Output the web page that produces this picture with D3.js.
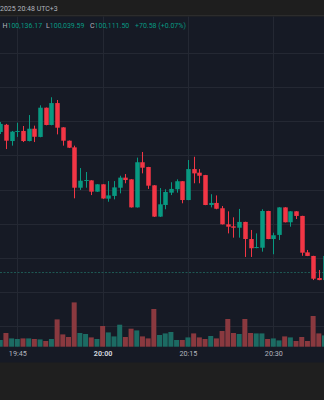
<!DOCTYPE html>
<html>
<head>
<meta charset="utf-8">
<script src="https://cdn.jsdelivr.net/npm/d3@7/dist/d3.min.js"></script>
<style>
  html, body { margin: 0; padding: 0; background: #1f1f1f; }
  svg { display: block; font-family: Roboto, "Noto Sans", sans-serif; }
</style>
</head>
<body>
<svg id="chart" width="324" height="400"></svg>
<script>
// ---- data (1-minute BTC candles, 19:42 – 20:39) ----
const times = ["19:42","19:43","19:44","19:45","19:46","19:47","19:48","19:49","19:50","19:51",
  "19:52","19:53","19:54","19:55","19:56","19:57","19:58","19:59","20:00","20:01",
  "20:02","20:03","20:04","20:05","20:06","20:07","20:08","20:09","20:10","20:11",
  "20:12","20:13","20:14","20:15","20:16","20:17","20:18","20:19","20:20","20:21",
  "20:22","20:23","20:24","20:25","20:26","20:27","20:28","20:29","20:30","20:31",
  "20:32","20:33","20:34","20:35","20:36","20:37","20:38","20:39"];
const open = [100193.7,100197.9,100188.4,100194.1,100194.3,100188.4,100195.6,100190.8,100207.9,100197.8,
  100210.6,100196.4,100188.6,100184.7,100161.1,100165.4,100165.4,100158.8,100163.1,100154.7,
  100156.3,100161.1,100167.0,100166.0,100149.6,100176.0,100173.2,100162.5,100144.2,100151.0,
  100158.2,100160.2,100164.9,100153.9,100172.0,100169.9,100168.5,100151.0,100152.2,100149.1,
  100139.7,100138.5,100137.7,100141.1,100131.1,100126.1,100126.0,100147.5,100131.1,100133.5,
  100149.6,100140.9,100147.3,100144.6,100123.3,100121.2,100108.3,100107.1];
const high = [100199.5,100198.4,100194.3,100199.1,100197.2,100203.6,100197.4,100209.3,100208.0,100214.0,
  100212.4,100196.5,100188.7,100185.7,100172.6,100170.3,100165.5,100163.2,100163.2,100165.0,
  100165.0,100168.1,100169.1,100166.1,100178.7,100182.0,100173.3,100162.6,100160.9,100160.2,
  100164.3,100166.0,100165.0,100177.3,100179.2,100172.0,100168.6,100157.3,100156.6,100150.4,
  100147.3,100143.8,100148.7,100141.2,100136.4,100134.4,100148.5,100147.6,100134.8,100149.7,
  100149.7,100147.4,100147.4,100144.7,100124.7,100121.3,100113.0,100121.3];
const low = [100192.5,100183.7,100185.7,100190.8,100187.8,100188.2,100187.8,100190.6,100197.6,100197.6,
  100192.3,100185.7,100184.3,100154.9,100159.8,100161.1,100156.8,100158.7,100154.6,100152.9,
  100154.3,100157.8,100163.7,100149.5,100149.5,100169.5,100160.4,100144.0,100144.0,100148.5,
  100156.8,100158.2,100152.0,100153.8,100163.7,100163.7,100150.9,100149.6,100148.5,100139.6,
  100134.4,100131.9,100131.9,100120.6,100120.6,100125.7,100123.7,100131.0,100122.2,100130.5,
  100140.8,100138.3,100142.8,100121.3,100121.1,100107.1,100107.0,100107.0];
const close = [100198.4,100188.6,100193.9,100194.3,100188.4,100195.6,100190.9,100207.9,100197.8,100210.6,
  100196.2,100188.6,100184.5,100161.1,100165.2,100165.6,100158.8,100163.1,100154.8,100156.6,
  100161.3,100167.0,100165.6,100149.6,100176.0,100172.8,100162.3,100144.2,100151.4,100158.6,
  100160.4,100164.9,100153.9,100172.0,100169.5,100168.1,100151.0,100152.2,100148.8,100139.7,
  100138.3,100137.7,100141.1,100131.1,100125.7,100126.4,100147.5,100131.1,100133.3,100149.6,
  100140.9,100147.3,100144.6,100123.1,100121.2,100107.9,100107.1,100121.2];
const volume = [6.7,13.7,8.3,7.7,8.3,8.3,7.7,7.3,5.7,7.7,
  27.3,12.3,9.7,44.3,13.7,12.7,9.3,7.7,20.7,14.3,
  10.3,22.0,9.7,18.0,16.3,10.3,8.3,37.7,11.7,13.3,
  14.7,6.7,6.7,9.3,13.3,9.3,7.7,10.7,8.3,15.7,
  27.7,13.7,12.7,27.7,13.7,13.3,13.3,7.7,8.3,6.3,
  10.3,9.3,5.7,9.7,5.7,30.7,13.3,11.3];
const timeTicks = ["19:45","20:00","20:15","20:30"];
const gridPrices = [100080,100100,100120,100140,100160,100180,100200,100220,100240];
const lastPrice = 100111.50;
const headerLabels = ["H","L","C"];
const headerValues = ["100,136.17","100,039.59","100,111.50"];
const headerChange = "+70.58 (+0.07%)";
const topBarText = "2025 20:48 UTC+3";

// ---- setup ----
const W = 324, H = 400;
const parse = d3.timeParse("%H:%M");
const candles = times.map((t, i) => ({
  t: parse(t), o: open[i], h: high[i], l: low[i], c: close[i], v: volume[i]
}));

const C = {
  outer: "#1f1f1f", topBar: "#1e1e1e", topBorder: "#2c2c2c",
  bg: "#161a25", grid: "#242833",
  up: "#089981", down: "#f23645",
  volUp: "#1c6b63", volDown: "#8a393f",
  text: "#b2b5be", textBright: "#d1d4dc"
};

const svg = d3.select("#chart");

const x = d3.scaleTime()
  .domain([parse("19:45"), parse("20:30")])
  .range([17.3, 273.3]);
const y = d3.scaleLinear().domain([100120, 100220]).range([258, 87]);
const yVol = d3.scaleLinear().domain([0, 100]).range([346.7, 246.7]);

const bodyW = 4.5, volW = 5;

// backgrounds
svg.append("rect").attr("width", W).attr("height", H).attr("fill", C.outer);
svg.append("rect").attr("width", W).attr("height", 15.5).attr("fill", C.topBar);
svg.append("rect").attr("y", 15).attr("width", W).attr("height", 1.5).attr("fill", C.topBorder);
svg.append("rect").attr("y", 16.5).attr("width", W).attr("height", 346).attr("fill", C.bg);

// grid
const grid = svg.append("g");
grid.selectAll("line.h").data(gridPrices).join("line")
  .attr("x1", 0).attr("x2", W)
  .attr("y1", d => Math.round(y(d)) + 0.5).attr("y2", d => Math.round(y(d)) + 0.5)
  .attr("stroke", C.grid).attr("stroke-width", 1);
grid.selectAll("line.v").data(timeTicks).join("line")
  .attr("x1", d => Math.round(x(parse(d))) + 0.5).attr("x2", d => Math.round(x(parse(d))) + 0.5)
  .attr("y1", 16.5).attr("y2", 347)
  .attr("stroke", C.grid).attr("stroke-width", 1);

// volume
svg.append("g").selectAll("rect").data(candles).join("rect")
  .attr("x", d => x(d.t) - volW / 2)
  .attr("width", volW)
  .attr("y", d => yVol(d.v))
  .attr("height", d => yVol(0) - yVol(d.v))
  .attr("fill", d => d.c >= d.o ? C.volUp : C.volDown);

// last price line
svg.append("line")
  .attr("x1", 0).attr("x2", W)
  .attr("y1", y(lastPrice)).attr("y2", y(lastPrice))
  .attr("stroke", "#1f5a55").attr("stroke-width", 1)
  .attr("stroke-dasharray", "2,1.5");

// candles
const cg = svg.append("g").selectAll("g").data(candles).join("g");
cg.append("line")
  .attr("x1", d => Math.round(x(d.t)) + 0.5).attr("x2", d => Math.round(x(d.t)) + 0.5)
  .attr("y1", d => y(d.h)).attr("y2", d => y(d.l))
  .attr("stroke", d => d.c >= d.o ? C.up : C.down).attr("stroke-width", 1);
cg.append("rect")
  .attr("x", d => Math.round(x(d.t)) + 0.5 - bodyW / 2)
  .attr("width", bodyW)
  .attr("y", d => y(Math.max(d.o, d.c)))
  .attr("height", d => Math.max(1, Math.abs(y(d.o) - y(d.c))))
  .attr("fill", d => d.c >= d.o ? C.up : C.down);

// time axis
const axis = d3.axisBottom(x)
  .tickValues(timeTicks.map(parse))
  .tickFormat(d3.timeFormat("%H:%M"))
  .tickSize(0).tickPadding(0);
const ag = svg.append("g").attr("transform", "translate(0,350.5)").call(axis);
ag.select(".domain").remove();
ag.selectAll("text")
  .attr("dy", "0.71em")
  .attr("fill", d => d.getMinutes() === 0 ? C.textBright : C.text)
  .attr("font-weight", d => d.getMinutes() === 0 ? 700 : 400)
  .style("font-size", "7.2px")
  .style("font-family", "Roboto, sans-serif");

// top bar text
svg.append("text").attr("x", 0).attr("y", 11.3)
  .attr("fill", C.text).style("font-size", "7px").text(topBarText);

// OHLC header
const hx = [2.5, 46, 90];
headerLabels.forEach((lab, i) => {
  const t = svg.append("text").attr("x", hx[i]).attr("y", 28).style("font-size", "7px");
  t.append("tspan").attr("fill", C.text).text(lab);
  t.append("tspan").attr("fill", C.up).text(headerValues[i]);
});
svg.append("text").attr("x", 135).attr("y", 28).style("font-size", "7px")
  .attr("fill", C.up).text(headerChange);
</script>
</body>
</html>
